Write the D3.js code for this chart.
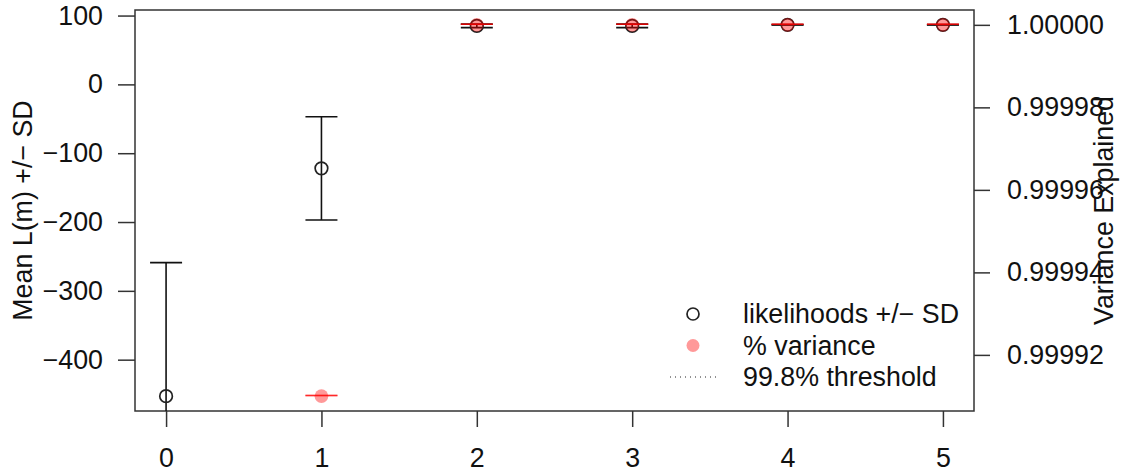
<!doctype html>
<html>
  <head>
    <meta charset="utf-8">
    <style>
      body { margin: 0; background: white; }
      svg text { font-family: 'Liberation Sans', Arial, sans-serif; font-size: 26.8px; fill: #111; }
    </style>
    <script src="https://d3js.org/d3.v7.min.js"></script>
  </head>
  <body>
    <svg id="chart" width="1123" height="476"></svg>
    <script>
      // number of components m
      var components = [0, 1, 2, 3, 4, 5];
      // mean log-likelihood and SD per m
      var meanL = [-453, -122, 85, 85, 86.5, 86.5];
      var sdL = [194, 75, 2.5, 2.5, 0.3, 0.3];
      // % variance explained (no value at m = 0)
      var varComp = [1, 2, 3, 4, 5];
      var varExpl = [0.99991, 1.0, 1.0, 1.0, 1.0];
      var varSd = [0, 0, 0, 0, 0];
      var xTicks = [0, 1, 2, 3, 4, 5];
      var yLeftTicks = [100, 0, -100, -200, -300, -400];
      var yRightTicks = [1.0, 0.99998, 0.99996, 0.99994, 0.99992];
      var legendLabels = ["likelihoods +/\u2212 SD", "% variance", "99.8% threshold"];

      function draw() {
        var svg = d3.select("#chart");
        var pl = 135, pr = 974, pt = 10, pb = 411;
        var fontSize = 26.8;

        // R style 4% padding on the data range
        function pad(ext) {
          var d = (ext[1] - ext[0]) * 0.04;
          return [ext[0] - d, ext[1] + d];
        }

        var x = d3.scaleLinear().domain(pad(d3.extent(components))).range([pl, pr]);
        var yL = d3.scaleLinear().domain(pad(d3.extent(meanL))).range([pb, pt]);
        var yR = d3.scaleLinear().domain(pad(d3.extent(varExpl))).range([pb, pt]);

        svg.append("clipPath").attr("id", "clip")
          .append("rect").attr("x", pl).attr("y", pt)
          .attr("width", pr - pl).attr("height", pb - pt);

        var axisColor = "#333";

        var gx = svg.append("g").attr("transform", "translate(0," + pb + ")")
          .call(d3.axisBottom(x).tickValues(xTicks).tickSize(16).tickPadding(21).tickFormat(d3.format("d")));
        var gl = svg.append("g").attr("transform", "translate(" + pl + ",0)")
          .call(d3.axisLeft(yL).tickValues(yLeftTicks).tickSize(17).tickPadding(15));
        var gr = svg.append("g").attr("transform", "translate(" + pr + ",0)")
          .call(d3.axisRight(yR).tickValues(yRightTicks).tickSize(16).tickPadding(17).tickFormat(d3.format(".5f")));

        [gx, gl, gr].forEach(function(g) {
          g.select(".domain").remove();
          g.selectAll(".tick line").attr("stroke", axisColor).attr("stroke-width", 1.5);
          g.selectAll(".tick text").attr("font-size", fontSize)
            .attr("font-family", "'Liberation Sans', Arial, sans-serif").attr("fill", "#111");
        });

        // box
        svg.append("rect").attr("x", pl).attr("y", pt)
          .attr("width", pr - pl).attr("height", pb - pt)
          .attr("fill", "none").attr("stroke", axisColor).attr("stroke-width", 1.5);

        // axis titles
        svg.append("text").attr("transform", "translate(32," + ((pt + pb) / 2) + ") rotate(-90)")
          .attr("text-anchor", "middle").text("Mean L(m) +/\u2212 SD");
        svg.append("text").attr("transform", "translate(1113," + ((pt + pb) / 2) + ") rotate(-90)")
          .attr("text-anchor", "middle").text("Variance Explained");

        var plot = svg.append("g").attr("clip-path", "url(#clip)");
        var cap = 16;

        // likelihood error bars
        var lik = components.map(function(m, i) { return { m: m, mean: meanL[i], sd: sdL[i] }; });
        lik.forEach(function(d) {
          var g = plot.append("g").attr("stroke", "#111").attr("stroke-width", 1.6);
          g.append("line").attr("x1", x(d.m)).attr("x2", x(d.m))
            .attr("y1", yL(d.mean - d.sd)).attr("y2", yL(d.mean + d.sd));
          [d.mean - d.sd, d.mean + d.sd].forEach(function(v) {
            g.append("line").attr("x1", x(d.m) - cap).attr("x2", x(d.m) + cap)
              .attr("y1", yL(v)).attr("y2", yL(v));
          });
        });
        plot.selectAll(".lik").data(lik).enter().append("circle")
          .attr("cx", function(d) { return x(d.m); })
          .attr("cy", function(d) { return yL(d.mean); })
          .attr("r", 6.3).attr("fill", "none").attr("stroke", "#222").attr("stroke-width", 1.7);

        // variance explained points with (zero) error bars
        var ve = varComp.map(function(m, i) { return { m: m, v: varExpl[i], sd: varSd[i] }; });
        ve.forEach(function(d) {
          [d.v - d.sd, d.v + d.sd].forEach(function(v) {
            plot.append("line").attr("x1", x(d.m) - cap).attr("x2", x(d.m) + cap)
              .attr("y1", yR(v) - 0.6).attr("y2", yR(v) - 0.6)
              .attr("stroke", "rgba(255,0,0,0.6)").attr("stroke-width", 1.6);
          });
        });
        plot.selectAll(".ve").data(ve).enter().append("circle")
          .attr("cx", function(d) { return x(d.m); })
          .attr("cy", function(d) { return yR(d.v); })
          .attr("r", 6.8).attr("fill", "rgba(255,0,0,0.4)");

        // legend
        var lx = 693, ly = 314, step = 31.5;
        var leg = svg.append("g");
        leg.append("circle").attr("cx", lx).attr("cy", ly).attr("r", 6)
          .attr("fill", "none").attr("stroke", "#222").attr("stroke-width", 1.7);
        leg.append("circle").attr("cx", lx).attr("cy", ly + step).attr("r", 6.5)
          .attr("fill", "rgba(255,0,0,0.4)");
        leg.append("line").attr("x1", lx - 23).attr("x2", lx + 25)
          .attr("y1", ly + 2 * step).attr("y2", ly + 2 * step)
          .attr("stroke", "#222").attr("stroke-width", 1).attr("stroke-dasharray", "1,4");
        legendLabels.forEach(function(t, i) {
          leg.append("text").attr("x", 743).attr("y", ly + i * step)
            .attr("dy", "0.35em").text(t);
        });
      }
      draw();
    </script>
  </body>
</html>
